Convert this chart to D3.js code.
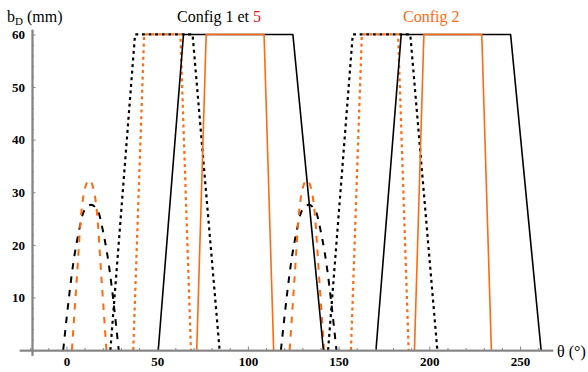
<!DOCTYPE html>
<html><head><meta charset="utf-8">
<script src="https://cdn.jsdelivr.net/npm/d3@7"></script>
<style>
html,body{margin:0;padding:0;background:#fff;}
svg{display:block;}
text{font-family:"Liberation Serif","Times New Roman",serif;}
</style></head>
<body>
<svg id="chart" width="588" height="372"></svg>
<script>
// ---- data (θ in degrees, bD in mm) ----
const thetaTicks = [0, 50, 100, 150, 200, 250];
const thetaMinor = [-20, -10, 10, 20, 30, 40, 60, 70, 80, 90, 110, 120, 130, 140, 160, 170, 180, 190, 210, 220, 230, 240, 260];
const bTicks = [10, 20, 30, 40, 50, 60];
const bMinor = [2, 4, 6, 8, 12, 14, 16, 18, 22, 24, 26, 28, 32, 34, 36, 38, 42, 44, 46, 48, 52, 54, 56, 58];

// Config 1 (black)
const c1SolidTheta = [50.6, 64.5, 124.8, 141.6, 170.6, 184.5, 244.8, 261.6];
const c1SolidB     = [0, 60, 60, 0, 0, 60, 60, 0];
const c1DottedTheta = [24.2, 37.8, 69.5, 84.4, 144.2, 157.8, 189.5, 204.4];
const c1DottedB     = [0, 60, 60, 0, 0, 60, 60, 0];
const c1DashedTheta = [-1.8, 4.6, 6.8, 9.6, 13.5, 17.4, 20.2, 22.4, 28.8,
                       118.2, 124.6, 126.8, 129.6, 133.5, 137.4, 140.2, 142.4, 148.8];
const c1DashedB     = [0, 18.4, 22.5, 26.4, 27.6, 26.4, 22.5, 18.4, 0,
                       0, 18.4, 22.5, 26.4, 27.6, 26.4, 22.5, 18.4, 0];

// Config 2 (orange)
const c2SolidTheta = [71.8, 77.0, 108.9, 114.2, 191.8, 197.0, 228.9, 234.2];
const c2SolidB     = [0, 60, 60, 0, 0, 60, 60, 0];
const c2DottedTheta = [36.8, 42.8, 62.8, 68.6, 156.8, 162.8, 182.8, 188.6];
const c2DottedB     = [0, 60, 60, 0, 0, 60, 60, 0];
const c2DashedTheta = [3.0, 5.7, 8.2, 10.4, 12.5, 14.6, 16.8, 19.3, 22.0,
                       123.0, 125.7, 128.2, 130.4, 132.5, 134.6, 136.8, 139.3, 142.0];
const c2DashedB     = [0, 13.6, 26.2, 31.0, 32.3, 31.0, 26.2, 13.6, 0,
                       0, 13.6, 26.2, 31.0, 32.3, 31.0, 26.2, 13.6, 0];

// ---- drawing ----
const BLACK = "#000", ORANGE = "#ff6a10", AXIS = "#858585";
const svg = d3.select("#chart");
const x = d3.scaleLinear().domain([-26, 268]).range([19.3, 552.7]);
const y = d3.scaleLinear().domain([-1, 61]).range([355.3, 29.2]);

function zip(t, b) { return t.map((v, i) => [v, b[i]]); }
function segments(t, b) {
  // split into separate pulses (each pulse starts and ends at 0)
  const pts = zip(t, b), out = [];
  let cur = [];
  pts.forEach((p, i) => {
    cur.push(p);
    if (i > 0 && p[1] === 0 && cur.length > 1) { out.push(cur); cur = []; }
  });
  if (cur.length) out.push(cur);
  return out;
}
const lineLin = d3.line().x(d => x(d[0])).y(d => y(d[1]));
const lineSmooth = d3.line().x(d => x(d[0])).y(d => y(d[1])).curve(d3.curveMonotoneX);

const series = [
  {t: c1DashedTheta, b: c1DashedB, color: BLACK, w: 2, dash: "6.5,7", gen: lineSmooth},
  {t: c2DashedTheta, b: c2DashedB, color: ORANGE, w: 2, dash: "6.5,7", gen: lineSmooth},
  {t: c1DottedTheta, b: c1DottedB, color: BLACK, w: 2.2, dash: "3,3.6", gen: lineLin},
  {t: c2DottedTheta, b: c2DottedB, color: ORANGE, w: 2.2, dash: "3,3.6", gen: lineLin},
  {t: c1SolidTheta, b: c1SolidB, color: BLACK, w: 1.6, dash: null, gen: lineLin},
  {t: c2SolidTheta, b: c2SolidB, color: ORANGE, w: 1.6, dash: null, gen: lineLin},
];
const gLines = svg.append("g");
series.forEach(s => {
  segments(s.t, s.b).forEach(seg => {
    gLines.append("path")
      .attr("d", s.gen(seg))
      .attr("fill", "none")
      .attr("stroke", s.color)
      .attr("stroke-width", s.w)
      .attr("stroke-linejoin", "round")
      .attr("stroke-dasharray", s.dash);
  });
});

// axes
const xAxisG = svg.append("g").attr("transform", `translate(0,${y(0)})`);
xAxisG.call(d3.axisBottom(x).tickValues(thetaMinor).tickSizeInner(-2).tickSizeOuter(0).tickFormat(""));
const xMaj = svg.append("g").attr("transform", `translate(0,${y(0)})`)
  .call(d3.axisBottom(x).tickValues(thetaTicks).tickSizeInner(-3.5).tickSizeOuter(0).tickPadding(7).tickFormat(d3.format("d")));
const yAxisG = svg.append("g").attr("transform", `translate(${x(-19)},0)`);
yAxisG.call(d3.axisLeft(y).tickValues(bMinor).tickSizeInner(-2).tickSizeOuter(0).tickFormat(""));
const yMaj = svg.append("g").attr("transform", `translate(${x(-19)},0)`)
  .call(d3.axisLeft(y).tickValues([0].concat(bTicks)).tickSizeInner(-3.5).tickSizeOuter(0).tickPadding(7)
    .tickFormat(d => d === 0 ? "" : d));

[xAxisG, xMaj, yAxisG, yMaj].forEach(g => {
  g.selectAll(".domain").attr("stroke", AXIS).attr("stroke-width", 1.8);
  g.selectAll(".tick line").attr("stroke", AXIS).attr("stroke-width", 1);
  g.selectAll("text").attr("fill", "#000").attr("font-size", 13).attr("font-weight", "bold")
    .attr("font-family", "'Liberation Serif', 'Times New Roman', serif");
});

// labels
const yl = svg.append("text").attr("x", 7).attr("y", 22).attr("font-size", 16).attr("fill", "#000");
yl.append("tspan").text("b");
yl.append("tspan").attr("font-size", 11).attr("dy", 3).text("D");
yl.append("tspan").attr("dy", -3).text(" (mm)");

const t1 = svg.append("text").attr("x", 177).attr("y", 22).attr("font-size", 16).attr("fill", "#000");
t1.append("tspan").text("Config 1 et ");
t1.append("tspan").attr("fill", "#e8141c").text("5");

svg.append("text").attr("x", 403).attr("y", 22).attr("font-size", 16).attr("fill", ORANGE).text("Config 2");

svg.append("text").attr("x", 557).attr("y", 357).attr("font-size", 16).attr("fill", "#000").text("θ (°)");
</script>
</body></html>
